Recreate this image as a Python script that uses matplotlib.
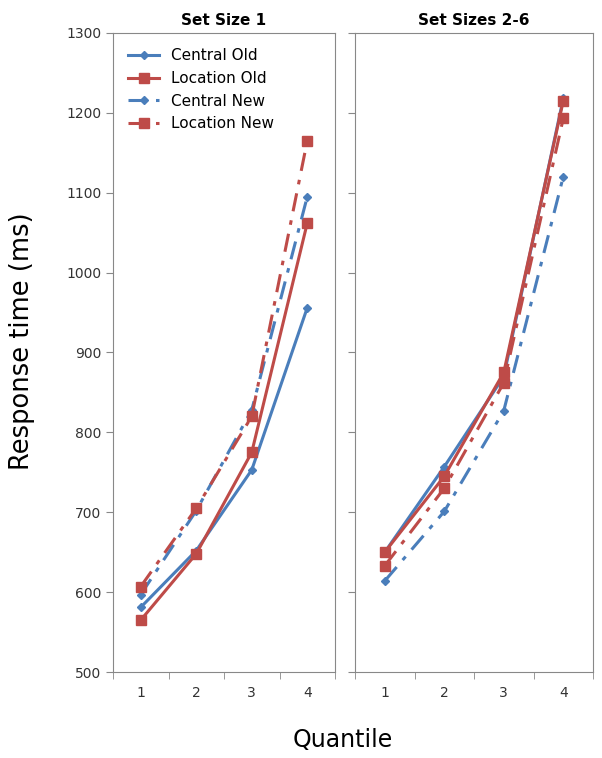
import numpy as np
import matplotlib.pyplot as plt

# quantile response times
quantiles = [1, 2, 3, 4]
labels = ['Central Old', 'Location Old', 'Central New', 'Location New']

# Set Size 1
ss1_central_old = [581, 652, 753, 956]
ss1_location_old = [565, 648, 775, 1062]
ss1_central_new = [597, 702, 828, 1095]
ss1_location_new = [607, 705, 820, 1165]

# Set Sizes 2-6
ss26_central_old = [650, 757, 870, 1218]
ss26_location_old = [650, 745, 875, 1215]
ss26_central_new = [614, 701, 827, 1120]
ss26_location_new = [633, 730, 862, 1193]

blue = '#4a7ebb'
red = '#be4b48'
styles = [
    dict(color=blue, marker='D', markersize=4.5, linestyle='-'),
    dict(color=red, marker='s', markersize=7, linestyle='-'),
    dict(color=blue, marker='D', markersize=4.5, linestyle=(0, (6, 3, 1.5, 3))),
    dict(color=red, marker='s', markersize=7, linestyle=(0, (6, 3, 1.5, 3))),
]

fig = plt.figure(figsize=(6.02, 7.58), dpi=100)
ax1 = fig.add_axes([113/602, 1 - 672/758, 222/602, 639/758])
ax2 = fig.add_axes([355/602, 1 - 672/758, 238/602, 639/758])

panels = [
    (ax1, 'Set Size 1', [ss1_central_old, ss1_location_old, ss1_central_new, ss1_location_new]),
    (ax2, 'Set Sizes 2-6', [ss26_central_old, ss26_location_old, ss26_central_new, ss26_location_new]),
]

for ax, title, series in panels:
    for vals, lab, st in zip(series, labels, styles):
        ax.plot(quantiles, vals, label=lab, linewidth=2.2, **st)
    ax.set_xlim(0.5, 4.5)
    ax.set_ylim(500, 1300)
    ax.set_yticks(np.arange(500, 1301, 100))
    ax.set_xticks(quantiles)
    ax.set_xticks([0.5, 1.5, 2.5, 3.5, 4.5], minor=True)
    ax.tick_params(axis='x', which='major', length=0, pad=10, labelsize=10, colors='#333333')
    ax.tick_params(axis='x', which='minor', length=5, color='#888888')
    ax.tick_params(axis='y', length=5, color='#888888', labelsize=10, labelcolor='#333333')
    for sp in ax.spines.values():
        sp.set_color('#888888')
    ax.set_title(title, fontsize=11, fontweight='bold', pad=6)

ax2.set_yticklabels([])

ax1.legend(loc='upper left', frameon=False, fontsize=11, handlelength=2.0,
           borderaxespad=0.6, labelspacing=0.5, bbox_to_anchor=(0.0, 1.0))

fig.text(0.015, 1 - 341/758, 'Response time (ms)', rotation=90, ha='left', va='center',
         fontsize=18.5)
fig.text(343/602, 1 - 740/758, 'Quantile', ha='center', va='center', fontsize=17)

fig.savefig('out.png', dpi=100)
